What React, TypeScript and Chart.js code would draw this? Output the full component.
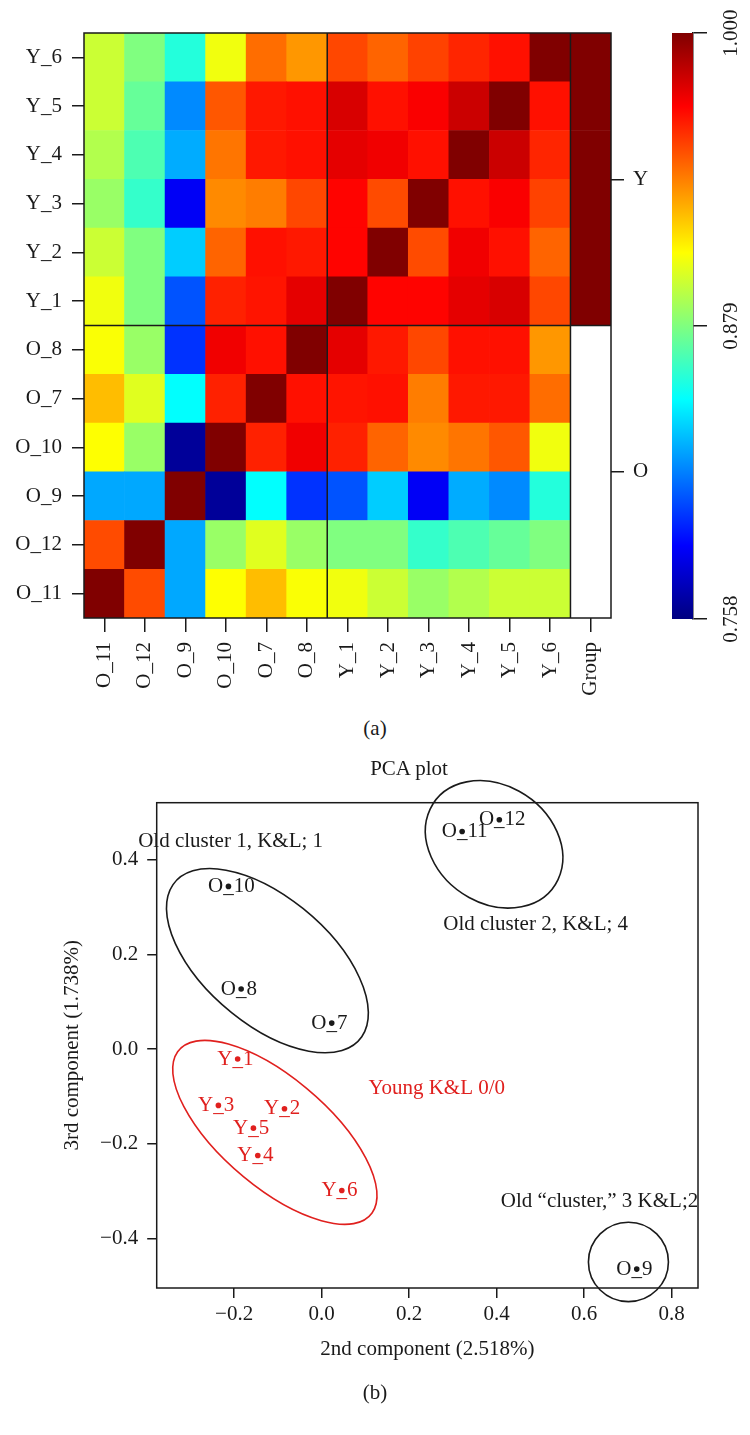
import React, { useEffect, useRef } from 'react';
import { Chart, registerables } from 'chart.js';

Chart.register(...registerables);

const FONT = '"Liberation Serif", "Times New Roman", serif';
const INK = '#1a1a1a';
const RED = '#e0201e';

// ---------- (a) correlation heatmap ----------
const heatLabels = ['O_11', 'O_12', 'O_9', 'O_10', 'O_7', 'O_8', 'Y_1', 'Y_2', 'Y_3', 'Y_4', 'Y_5', 'Y_6'];
const groupColumnLabel = 'Group';
const groupNames = ['O', 'Y'];

// rows listed bottom -> top, columns left -> right (same order as heatLabels)
const corrO11 = [1.000, 0.952, 0.828, 0.909, 0.925, 0.908, 0.906, 0.897, 0.885, 0.891, 0.897, 0.897];
const corrO12 = [0.952, 1.000, 0.828, 0.885, 0.902, 0.885, 0.879, 0.879, 0.861, 0.867, 0.873, 0.879];
const corrO9 = [0.828, 0.828, 1.000, 0.764, 0.849, 0.800, 0.808, 0.837, 0.786, 0.829, 0.821, 0.857];
const corrO10 = [0.909, 0.885, 0.764, 1.000, 0.962, 0.973, 0.962, 0.946, 0.937, 0.942, 0.949, 0.906];
const corrO7 = [0.925, 0.902, 0.849, 0.962, 1.000, 0.966, 0.965, 0.966, 0.940, 0.964, 0.964, 0.944];
const corrO8 = [0.908, 0.885, 0.800, 0.973, 0.966, 1.000, 0.976, 0.964, 0.953, 0.966, 0.966, 0.934];
const corrY1 = [0.906, 0.879, 0.808, 0.962, 0.965, 0.976, 1.000, 0.969, 0.969, 0.976, 0.979, 0.953];
const corrY2 = [0.897, 0.879, 0.837, 0.946, 0.966, 0.964, 0.969, 1.000, 0.952, 0.973, 0.966, 0.946];
const corrY3 = [0.885, 0.861, 0.786, 0.937, 0.940, 0.953, 0.969, 0.952, 1.000, 0.966, 0.971, 0.954];
const corrY4 = [0.891, 0.867, 0.829, 0.942, 0.964, 0.966, 0.976, 0.973, 0.966, 1.000, 0.982, 0.961];
const corrY5 = [0.897, 0.873, 0.821, 0.949, 0.964, 0.966, 0.979, 0.966, 0.971, 0.982, 1.000, 0.966];
const corrY6 = [0.897, 0.879, 0.857, 0.906, 0.944, 0.934, 0.953, 0.946, 0.954, 0.961, 0.966, 1.000];
const corrRows = [corrO11, corrO12, corrO9, corrO10, corrO7, corrO8, corrY1, corrY2, corrY3, corrY4, corrY5, corrY6];

const colorbarMin = 0.758;
const colorbarMax = 1.0;
const colorbarTicks = [0.758, 0.879, 1.0];
const jetStops = [0, 0.125, 0.375, 0.625, 0.875, 1];

// ---------- (b) PCA plot ----------
const pcaLabels = ['O_7', 'O_8', 'O_9', 'O_10', 'O_11', 'O_12', 'Y_1', 'Y_2', 'Y_3', 'Y_4', 'Y_5', 'Y_6'];
const pcaX = [0.023, -0.184, 0.720, -0.213, 0.321, 0.406, -0.192, -0.085, -0.236, -0.146, -0.156, 0.046];
const pcaY = [0.055, 0.127, -0.465, 0.344, 0.460, 0.485, -0.021, -0.126, -0.119, -0.225, -0.167, -0.299];
const pcaXTicks = [-0.2, 0.0, 0.2, 0.4, 0.6, 0.8];
const pcaYTicks = [-0.4, -0.2, 0.0, 0.2, 0.4];
const pcaXRange = [-0.377, 0.86];
const pcaYRange = [-0.505, 0.521];

const ellipseCx = [-0.124, 0.394, -0.107, 0.701];
const ellipseCy = [0.187, 0.433, -0.176, -0.450];
const ellipseA = [0.269, 0.164, 0.280, 0.0914];
const ellipseB = [0.137, 0.126, 0.118, 0.0839];
const ellipseAngle = [-36.7, -27, -37.5, 0];
const ellipseColor = [INK, INK, RED, INK];

const noteTexts = ['Old cluster 1, K&L; 1', 'Old cluster 2, K&L; 4', 'Young K&L 0/0', 'Old \u201ccluster,\u201d 3 K&L;2'];
const noteX = [-0.208, 0.489, 0.263, 0.635];
const noteY = [0.439, 0.263, -0.083, -0.322];
const noteColor = [INK, INK, RED, INK];

function clamp01(v: number) {
  return Math.max(0, Math.min(1, v));
}
function jet(t: number) {
  const r = clamp01(1.5 - Math.abs(4 * t - 3));
  const g = clamp01(1.5 - Math.abs(4 * t - 2));
  const b = clamp01(1.5 - Math.abs(4 * t - 1));
  return `rgb(${Math.round(r * 255)},${Math.round(g * 255)},${Math.round(b * 255)})`;
}
const norm = (v: number) => (v - colorbarMin) / (colorbarMax - colorbarMin);
const fmtSigned = (v: number) => (v < -1e-9 ? '\u2212' : '') + Math.abs(v).toFixed(1);

const tickFont = { family: FONT, size: 21 };

function heatConfig(): any {
  const xLabels = [...heatLabels, groupColumnLabel];
  const datasets = heatLabels.map((rowName, i) => ({
    label: rowName,
    data: xLabels.map(() => 1),
    backgroundColor: xLabels.map((_, j) =>
      j < heatLabels.length
        ? jet(norm(corrRows[i][j]))
        : rowName.startsWith('Y')
        ? jet(1)
        : 'rgba(255,255,255,0)'
    ),
    borderWidth: 0,
    barPercentage: 1,
    categoryPercentage: 1,
    yAxisID: 'y',
  }));
  const groupCenters = groupNames.map((g) => {
    const idx = heatLabels.map((l, i) => (l.startsWith(g) ? i : -1)).filter((i) => i >= 0);
    return (Math.min(...idx) + Math.max(...idx) + 1) / 2;
  });
  const framePlugin = {
    id: 'heatFrame',
    afterDraw(chart: any) {
      const { ctx, chartArea: a, scales } = chart;
      const xs = scales.x;
      const ys = scales.y;
      const nO = heatLabels.filter((l) => l.startsWith('O')).length;
      const xOY = (xs.getPixelForValue(nO - 1) + xs.getPixelForValue(nO)) / 2;
      const xGroup = (xs.getPixelForValue(heatLabels.length - 1) + xs.getPixelForValue(heatLabels.length)) / 2;
      const yOY = ys.getPixelForValue(nO);
      ctx.save();
      ctx.strokeStyle = INK;
      ctx.lineWidth = 1.5;
      ctx.strokeRect(a.left, a.top, a.right - a.left, a.bottom - a.top);
      ctx.beginPath();
      ctx.moveTo(xOY, a.top);
      ctx.lineTo(xOY, a.bottom);
      ctx.moveTo(xGroup, a.top);
      ctx.lineTo(xGroup, a.bottom);
      ctx.moveTo(a.left, yOY);
      ctx.lineTo(a.right, yOY);
      ctx.stroke();
      ctx.restore();
    },
  };
  return {
    type: 'bar',
    data: { labels: xLabels, datasets },
    plugins: [framePlugin],
    options: {
      animation: false,
      responsive: false,
      devicePixelRatio: 1,
      layout: { padding: { top: 33, left: 0, right: 0, bottom: 0 } },
      plugins: { legend: { display: false }, tooltip: { enabled: false } },
      scales: {
        x: {
          type: 'category',
          stacked: true,
          offset: true,
          grid: { offset: false, drawOnChartArea: false, drawTicks: true, tickLength: 14, color: INK, lineWidth: 1.5 },
          border: { display: false },
          ticks: { font: tickFont, color: INK, minRotation: 90, maxRotation: 90, padding: 10, autoSkip: false },
          afterFit: (s: any) => {
            s.height = 82;
          },
        },
        y: {
          type: 'linear',
          stacked: true,
          min: 0,
          max: heatLabels.length,
          position: 'left',
          afterBuildTicks: (s: any) => {
            s.ticks = heatLabels.map((_, i) => ({ value: i + 0.5 }));
          },
          ticks: { font: tickFont, color: INK, padding: 10, autoSkip: false, callback: (_v: any, i: number) => heatLabels[i] },
          grid: { drawOnChartArea: false, tickLength: 12, color: INK, lineWidth: 1.5 },
          border: { display: false },
          afterFit: (s: any) => {
            s.width = 84;
          },
        },
        yGroup: {
          type: 'linear',
          min: 0,
          max: heatLabels.length,
          position: 'right',
          afterBuildTicks: (s: any) => {
            s.ticks = groupCenters.map((v) => ({ value: v }));
          },
          ticks: { font: tickFont, color: INK, padding: 9, autoSkip: false, callback: (_v: any, i: number) => groupNames[i] },
          grid: { drawOnChartArea: false, tickLength: 13, color: INK, lineWidth: 1.5 },
          border: { display: false },
          afterFit: (s: any) => {
            s.width = 49;
          },
        },
      },
    },
  };
}

function colorbarConfig(): any {
  return {
    type: 'bar',
    data: {
      labels: [''],
      datasets: [
        {
          data: [[colorbarMin, colorbarMax]],
          backgroundColor: (c: any) => {
            const chart = c.chart;
            if (!chart.chartArea) return 'rgba(0,0,0,0)';
            const ys = chart.scales.y;
            const g = chart.ctx.createLinearGradient(0, ys.getPixelForValue(colorbarMin), 0, ys.getPixelForValue(colorbarMax));
            jetStops.forEach((t) => g.addColorStop(t, jet(t)));
            return g;
          },
          borderWidth: 0,
          barPercentage: 1,
          categoryPercentage: 1,
          inflateAmount: 0,
        },
      ],
    },
    options: {
      animation: false,
      responsive: false,
      devicePixelRatio: 1,
      layout: { padding: { top: 33, left: 32, right: 0, bottom: 81 } },
      plugins: { legend: { display: false }, tooltip: { enabled: false } },
      scales: {
        x: { display: false },
        y: {
          type: 'linear',
          position: 'right',
          min: colorbarMin,
          max: colorbarMax,
          afterBuildTicks: (s: any) => {
            s.ticks = colorbarTicks.map((v) => ({ value: v }));
          },
          ticks: {
            font: tickFont,
            color: INK,
            minRotation: 90,
            maxRotation: 90,
            crossAlign: 'center',
            padding: 1,
            callback: (v: any) => Number(v).toFixed(3),
          },
          grid: { drawOnChartArea: false, tickLength: 14, color: INK, lineWidth: 1.5 },
          border: { display: true, color: INK, width: 1.5 },
          afterFit: (s: any) => {
            s.width = 57;
          },
        },
      },
    },
  };
}

function pcaConfig(): any {
  const groups = ['O', 'Y'];
  const datasets = groups.map((g) => ({
    label: g,
    data: pcaLabels
      .map((l, i) => ({ x: pcaX[i], y: pcaY[i], name: l }))
      .filter((p) => p.name.startsWith(g)),
    backgroundColor: g === 'O' ? INK : RED,
    borderWidth: 0,
    pointRadius: 2.8,
  }));
  const overlay = {
    id: 'pcaOverlay',
    beforeDatasetsDraw(chart: any) {
      const { ctx, scales } = chart;
      const xs = scales.x;
      const ys = scales.y;
      ctx.save();
      ctx.font = `21px ${FONT}`;
      ctx.textBaseline = 'middle';
      ctx.textAlign = 'left';
      pcaLabels.forEach((l, i) => {
        const px = xs.getPixelForValue(pcaX[i]);
        const py = ys.getPixelForValue(pcaY[i]);
        const prefix = l.split('_')[0];
        const start = px - ctx.measureText(prefix).width - ctx.measureText('_').width / 2;
        ctx.fillStyle = l.startsWith('Y') ? RED : INK;
        ctx.fillText(l, start, py);
      });
      ctx.restore();
    },
    afterDraw(chart: any) {
      const { ctx, chartArea: a, scales } = chart;
      const xs = scales.x;
      const ys = scales.y;
      ctx.save();
      ctx.strokeStyle = INK;
      ctx.lineWidth = 1.5;
      ctx.strokeRect(a.left, a.top, a.right - a.left, a.bottom - a.top);
      const sx = xs.getPixelForValue(1) - xs.getPixelForValue(0);
      const sy = ys.getPixelForValue(0) - ys.getPixelForValue(1);
      ellipseCx.forEach((cx, k) => {
        ctx.save();
        ctx.beginPath();
        ctx.translate(xs.getPixelForValue(cx), ys.getPixelForValue(ellipseCy[k]));
        ctx.scale(sx, -sy);
        ctx.rotate((ellipseAngle[k] * Math.PI) / 180);
        ctx.ellipse(0, 0, ellipseA[k], ellipseB[k], 0, 0, Math.PI * 2);
        ctx.restore();
        ctx.strokeStyle = ellipseColor[k];
        ctx.lineWidth = 1.6;
        ctx.stroke();
      });
      ctx.font = `21px ${FONT}`;
      ctx.textAlign = 'center';
      ctx.textBaseline = 'middle';
      noteTexts.forEach((t, k) => {
        ctx.fillStyle = noteColor[k];
        ctx.fillText(t, xs.getPixelForValue(noteX[k]), ys.getPixelForValue(noteY[k]));
      });
      ctx.restore();
    },
  };
  return {
    type: 'scatter',
    data: { datasets },
    plugins: [overlay],
    options: {
      animation: false,
      responsive: false,
      devicePixelRatio: 1,
      layout: { padding: { left: 56, top: 62.7, right: 52, bottom: 24 } },
      plugins: { legend: { display: false }, tooltip: { enabled: false } },
      scales: {
        x: {
          type: 'linear',
          min: pcaXRange[0],
          max: pcaXRange[1],
          afterBuildTicks: (s: any) => {
            s.ticks = pcaXTicks.map((v) => ({ value: v }));
          },
          ticks: { font: tickFont, color: INK, padding: 4, callback: (v: any) => fmtSigned(Number(v)) },
          grid: { drawOnChartArea: false, tickLength: 10, color: INK, lineWidth: 1.5 },
          border: { display: false },
          title: { display: true, text: '2nd component (2.518%)', font: tickFont, color: INK, padding: { top: 4, bottom: 4 } },
          afterFit: (s: any) => {
            s.height = 78;
          },
        },
        y: {
          type: 'linear',
          min: pcaYRange[0],
          max: pcaYRange[1],
          afterBuildTicks: (s: any) => {
            s.ticks = pcaYTicks.map((v) => ({ value: v }));
          },
          ticks: { font: tickFont, color: INK, padding: 9, callback: (v: any) => fmtSigned(Number(v)) },
          grid: { drawOnChartArea: false, tickLength: 9.5, color: INK, lineWidth: 1.5 },
          border: { display: false },
          title: { display: true, text: '3rd component (1.738%)', font: tickFont, color: INK, padding: { top: 4, bottom: 4 } },
          afterFit: (s: any) => {
            s.width = 100.7;
          },
        },
      },
    },
  };
}

const textStyle: React.CSSProperties = {
  position: 'absolute',
  transform: 'translate(-50%, -50%)',
  fontFamily: FONT,
  fontSize: 21,
  lineHeight: '24px',
  color: INK,
  whiteSpace: 'nowrap',
};

export default function App() {
  const heatRef = useRef<HTMLCanvasElement>(null);
  const barRef = useRef<HTMLCanvasElement>(null);
  const pcaRef = useRef<HTMLCanvasElement>(null);

  useEffect(() => {
    const c1 = new Chart(heatRef.current as HTMLCanvasElement, heatConfig());
    const c2 = new Chart(barRef.current as HTMLCanvasElement, colorbarConfig());
    const c3 = new Chart(pcaRef.current as HTMLCanvasElement, pcaConfig());
    return () => {
      c1.destroy();
      c2.destroy();
      c3.destroy();
    };
  }, []);

  return (
    <div style={{ position: 'absolute', left: 0, top: 0, width: 750, height: 1435, background: '#fff', overflow: 'hidden' }}>
      <canvas ref={heatRef} width={660} height={700} style={{ position: 'absolute', left: 0, top: 0, width: 660, height: 700 }} />
      <canvas ref={barRef} width={110} height={700} style={{ position: 'absolute', left: 640, top: 0, width: 110, height: 700 }} />
      <canvas ref={pcaRef} width={750} height={650} style={{ position: 'absolute', left: 0, top: 740, width: 750, height: 650 }} />
      <div style={{ ...textStyle, left: 375, top: 728 }}>(a)</div>
      <div style={{ ...textStyle, left: 409, top: 768 }}>PCA plot</div>
      <div style={{ ...textStyle, left: 375, top: 1392 }}>(b)</div>
    </div>
  );
}
